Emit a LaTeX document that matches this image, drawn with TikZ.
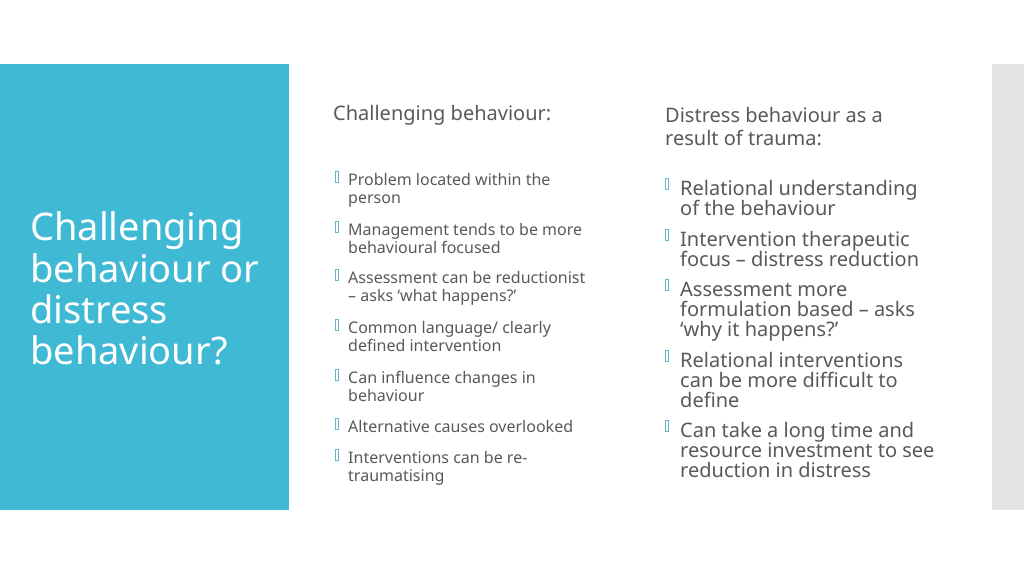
\documentclass[tikz,border=0pt]{standalone}
\usepackage{fontspec}
\setmainfont{Noto Sans}
\begin{document}
\begin{tikzpicture}[x=1pt,y=-1pt,
  L/.style={anchor=base west,inner sep=0pt,font=\fontsize{16}{18}\selectfont,text=txt},
  R/.style={anchor=base west,inner sep=0pt,font=\fontsize{20}{20}\selectfont,text=txt},
  H/.style={anchor=base west,inner sep=0pt,font=\fontsize{20}{23}\selectfont\bfseries,text=txt},
  T/.style={anchor=base west,inner sep=0pt,font=\fontsize{38}{42}\selectfont,text=white},
  bul/.style={draw=bulc,line width=0.8pt,minimum width=3pt,minimum height=11pt,inner sep=0pt,anchor=north west}]
\definecolor{txt}{HTML}{595959}
\definecolor{blu}{HTML}{40B9D4}
\definecolor{bulc}{HTML}{5FB7C9}
\useasboundingbox (0,0) rectangle (1024,575);
\fill[white] (0,0) rectangle (1024,575);
\fill[blu] (0,64) rectangle (289,510);
\fill[black!11] (992,64) rectangle (1024,510);
\node[T] (t1) at (30,240) {Challenging};
\node[T] (t2) at (30,282) {behaviour or};
\node[T] (t3) at (30,323) {distress};
\node[T] (t4) at (30,364) {behaviour?};
\node[H] (h1) at (333,121) {Challenging behaviour:};
\node[H] (h2) at (665,122) {Distress behaviour as a};
\node[H] (h3) at (665,145) {result of trauma:};
\foreach \y/\a/\b [count=\i] in {185/Problem located within the/person,
  235/Management tends to be more/behavioural focused,
  283/Assessment can be reductionist/– asks ‘what happens?’,
  333/Common language\slash\ clearly/defined intervention,
  383/Can influence changes in/behaviour,
  463/Interventions can be re-/traumatising}{
  \node[bul] (lb\i) at (335,\y-14) {};
  \node[L] (la\i) at (348,\y) {\a};
  \node[L] (lc\i) at (348,\y+18) {\b};
}
\node[bul] (lb7) at (335,418) {};
\node[L] (la7) at (348,432) {Alternative causes overlooked};
\node[bul] (rb1) at (665,178) {};
\node[R] (r1) at (680,195) {Relational understanding};
\node[R] (r2) at (680,215) {of the behaviour};
\node[bul] (rb2) at (665,229) {};
\node[R] (r3) at (680,246) {Intervention therapeutic};
\node[R] (r4) at (680,266) {focus – distress reduction};
\node[bul] (rb3) at (665,279) {};
\node[R] (r5) at (680,296) {Assessment more};
\node[R] (r6) at (680,316) {formulation based – asks};
\node[R] (r7) at (680,336) {‘why it happens?’};
\node[bul] (rb4) at (665,350) {};
\node[R] (r8) at (680,367) {Relational interventions};
\node[R] (r9) at (680,387) {can be more difficult to};
\node[R] (r10) at (680,407) {define};
\node[bul] (rb5) at (665,420) {};
\node[R] (r11) at (680,437) {Can take a long time and};
\node[R] (r12) at (680,457) {resource investment to see};
\node[R] (r13) at (680,477) {reduction in distress};
\end{tikzpicture}
\end{document}
